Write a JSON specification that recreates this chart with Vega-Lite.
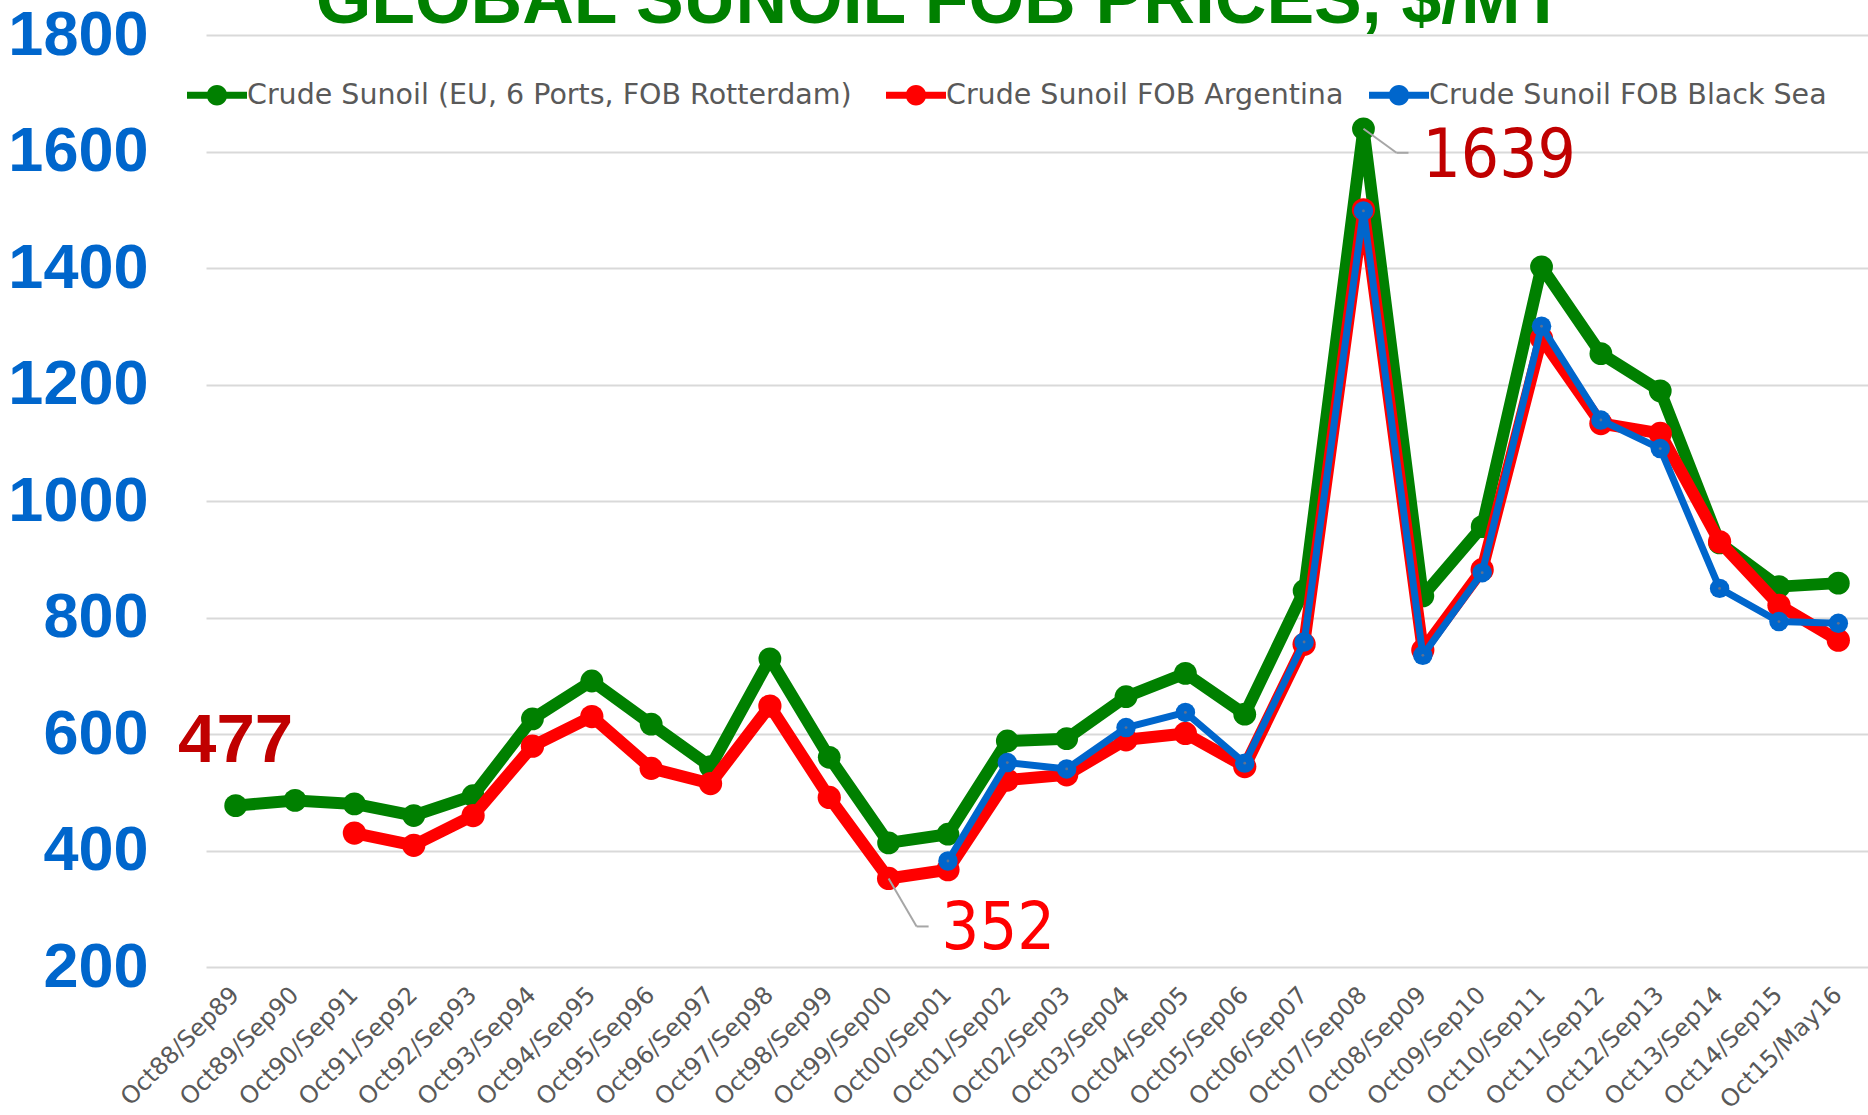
{
  "$schema": "https://vega.github.io/schema/vega-lite/v6.json",
  "width": 1662,
  "height": 932,
  "autosize": {"type": "none"},
  "padding": {"left": 206, "top": 35, "right": 0, "bottom": 148},
  "background": "white",
  "config": {"view": {"stroke": null}},
  "title": {
    "text": "GLOBAL SUNOIL FOB PRICES, $/MT",
    "font": "Liberation Sans",
    "fontSize": 71.5,
    "fontWeight": "bold",
    "color": "#008000",
    "anchor": "middle",
    "frame": "group",
    "dx": -97,
    "offset": 0,
    "baseline": "alphabetic",
    "dy": 90
  },
  "datasets": {
    "prices": [
      {"period": "Oct88/Sep89", "series": "Crude Sunoil  (EU, 6 Ports, FOB Rotterdam)", "price": 477},
      {"period": "Oct89/Sep90", "series": "Crude Sunoil  (EU, 6 Ports, FOB Rotterdam)", "price": 486},
      {"period": "Oct90/Sep91", "series": "Crude Sunoil  (EU, 6 Ports, FOB Rotterdam)", "price": 480},
      {"period": "Oct91/Sep92", "series": "Crude Sunoil  (EU, 6 Ports, FOB Rotterdam)", "price": 460},
      {"period": "Oct92/Sep93", "series": "Crude Sunoil  (EU, 6 Ports, FOB Rotterdam)", "price": 494},
      {"period": "Oct93/Sep94", "series": "Crude Sunoil  (EU, 6 Ports, FOB Rotterdam)", "price": 626},
      {"period": "Oct94/Sep95", "series": "Crude Sunoil  (EU, 6 Ports, FOB Rotterdam)", "price": 691},
      {"period": "Oct95/Sep96", "series": "Crude Sunoil  (EU, 6 Ports, FOB Rotterdam)", "price": 617},
      {"period": "Oct96/Sep97", "series": "Crude Sunoil  (EU, 6 Ports, FOB Rotterdam)", "price": 544},
      {"period": "Oct97/Sep98", "series": "Crude Sunoil  (EU, 6 Ports, FOB Rotterdam)", "price": 729},
      {"period": "Oct98/Sep99", "series": "Crude Sunoil  (EU, 6 Ports, FOB Rotterdam)", "price": 560},
      {"period": "Oct99/Sep00", "series": "Crude Sunoil  (EU, 6 Ports, FOB Rotterdam)", "price": 413},
      {"period": "Oct00/Sep01", "series": "Crude Sunoil  (EU, 6 Ports, FOB Rotterdam)", "price": 428},
      {"period": "Oct01/Sep02", "series": "Crude Sunoil  (EU, 6 Ports, FOB Rotterdam)", "price": 588},
      {"period": "Oct02/Sep03", "series": "Crude Sunoil  (EU, 6 Ports, FOB Rotterdam)", "price": 592},
      {"period": "Oct03/Sep04", "series": "Crude Sunoil  (EU, 6 Ports, FOB Rotterdam)", "price": 664},
      {"period": "Oct04/Sep05", "series": "Crude Sunoil  (EU, 6 Ports, FOB Rotterdam)", "price": 704},
      {"period": "Oct05/Sep06", "series": "Crude Sunoil  (EU, 6 Ports, FOB Rotterdam)", "price": 634},
      {"period": "Oct06/Sep07", "series": "Crude Sunoil  (EU, 6 Ports, FOB Rotterdam)", "price": 846},
      {"period": "Oct07/Sep08", "series": "Crude Sunoil  (EU, 6 Ports, FOB Rotterdam)", "price": 1639},
      {"period": "Oct08/Sep09", "series": "Crude Sunoil  (EU, 6 Ports, FOB Rotterdam)", "price": 837},
      {"period": "Oct09/Sep10", "series": "Crude Sunoil  (EU, 6 Ports, FOB Rotterdam)", "price": 956},
      {"period": "Oct10/Sep11", "series": "Crude Sunoil  (EU, 6 Ports, FOB Rotterdam)", "price": 1402},
      {"period": "Oct11/Sep12", "series": "Crude Sunoil  (EU, 6 Ports, FOB Rotterdam)", "price": 1253},
      {"period": "Oct12/Sep13", "series": "Crude Sunoil  (EU, 6 Ports, FOB Rotterdam)", "price": 1189},
      {"period": "Oct13/Sep14", "series": "Crude Sunoil  (EU, 6 Ports, FOB Rotterdam)", "price": 928},
      {"period": "Oct14/Sep15", "series": "Crude Sunoil  (EU, 6 Ports, FOB Rotterdam)", "price": 853},
      {"period": "Oct15/May16", "series": "Crude Sunoil  (EU, 6 Ports, FOB Rotterdam)", "price": 859},
      {"period": "Oct90/Sep91", "series": "Crude Sunoil FOB Argentina", "price": 430},
      {"period": "Oct91/Sep92", "series": "Crude Sunoil FOB Argentina", "price": 409},
      {"period": "Oct92/Sep93", "series": "Crude Sunoil FOB Argentina", "price": 460},
      {"period": "Oct93/Sep94", "series": "Crude Sunoil FOB Argentina", "price": 579},
      {"period": "Oct94/Sep95", "series": "Crude Sunoil FOB Argentina", "price": 630},
      {"period": "Oct95/Sep96", "series": "Crude Sunoil FOB Argentina", "price": 541},
      {"period": "Oct96/Sep97", "series": "Crude Sunoil FOB Argentina", "price": 515},
      {"period": "Oct97/Sep98", "series": "Crude Sunoil FOB Argentina", "price": 648},
      {"period": "Oct98/Sep99", "series": "Crude Sunoil FOB Argentina", "price": 491},
      {"period": "Oct99/Sep00", "series": "Crude Sunoil FOB Argentina", "price": 352},
      {"period": "Oct00/Sep01", "series": "Crude Sunoil FOB Argentina", "price": 367},
      {"period": "Oct01/Sep02", "series": "Crude Sunoil FOB Argentina", "price": 521},
      {"period": "Oct02/Sep03", "series": "Crude Sunoil FOB Argentina", "price": 530},
      {"period": "Oct03/Sep04", "series": "Crude Sunoil FOB Argentina", "price": 590},
      {"period": "Oct04/Sep05", "series": "Crude Sunoil FOB Argentina", "price": 601},
      {"period": "Oct05/Sep06", "series": "Crude Sunoil FOB Argentina", "price": 544},
      {"period": "Oct06/Sep07", "series": "Crude Sunoil FOB Argentina", "price": 754},
      {"period": "Oct07/Sep08", "series": "Crude Sunoil FOB Argentina", "price": 1500},
      {"period": "Oct08/Sep09", "series": "Crude Sunoil FOB Argentina", "price": 744},
      {"period": "Oct09/Sep10", "series": "Crude Sunoil FOB Argentina", "price": 882},
      {"period": "Oct10/Sep11", "series": "Crude Sunoil FOB Argentina", "price": 1279},
      {"period": "Oct11/Sep12", "series": "Crude Sunoil FOB Argentina", "price": 1133},
      {"period": "Oct12/Sep13", "series": "Crude Sunoil FOB Argentina", "price": 1116},
      {"period": "Oct13/Sep14", "series": "Crude Sunoil FOB Argentina", "price": 930},
      {"period": "Oct14/Sep15", "series": "Crude Sunoil FOB Argentina", "price": 821},
      {"period": "Oct15/May16", "series": "Crude Sunoil FOB Argentina", "price": 761},
      {"period": "Oct00/Sep01", "series": "Crude Sunoil  FOB Black Sea", "price": 382},
      {"period": "Oct01/Sep02", "series": "Crude Sunoil  FOB Black Sea", "price": 551},
      {"period": "Oct02/Sep03", "series": "Crude Sunoil  FOB Black Sea", "price": 540},
      {"period": "Oct03/Sep04", "series": "Crude Sunoil  FOB Black Sea", "price": 611},
      {"period": "Oct04/Sep05", "series": "Crude Sunoil  FOB Black Sea", "price": 637},
      {"period": "Oct05/Sep06", "series": "Crude Sunoil  FOB Black Sea", "price": 550},
      {"period": "Oct06/Sep07", "series": "Crude Sunoil  FOB Black Sea", "price": 758},
      {"period": "Oct07/Sep08", "series": "Crude Sunoil  FOB Black Sea", "price": 1498},
      {"period": "Oct08/Sep09", "series": "Crude Sunoil  FOB Black Sea", "price": 735},
      {"period": "Oct09/Sep10", "series": "Crude Sunoil  FOB Black Sea", "price": 877},
      {"period": "Oct10/Sep11", "series": "Crude Sunoil  FOB Black Sea", "price": 1300},
      {"period": "Oct11/Sep12", "series": "Crude Sunoil  FOB Black Sea", "price": 1139},
      {"period": "Oct12/Sep13", "series": "Crude Sunoil  FOB Black Sea", "price": 1090},
      {"period": "Oct13/Sep14", "series": "Crude Sunoil  FOB Black Sea", "price": 850},
      {"period": "Oct14/Sep15", "series": "Crude Sunoil  FOB Black Sea", "price": 793},
      {"period": "Oct15/May16", "series": "Crude Sunoil  FOB Black Sea", "price": 790}
    ],
    "notes": [
      {"period": "Oct88/Sep89", "price": 477, "label": "477", "note": "start"},
      {"period": "Oct07/Sep08", "price": 1639, "label": "1639", "note": "peak"},
      {"period": "Oct99/Sep00", "price": 352, "label": "352", "note": "low"}
    ]
  },
  "data": {"name": "prices"},
  "encoding": {
    "x": {
      "field": "period",
      "type": "ordinal",
      "sort": null,
      "scale": {"domain": ["Oct88/Sep89","Oct89/Sep90","Oct90/Sep91","Oct91/Sep92","Oct92/Sep93","Oct93/Sep94","Oct94/Sep95","Oct95/Sep96","Oct96/Sep97","Oct97/Sep98","Oct98/Sep99","Oct99/Sep00","Oct00/Sep01","Oct01/Sep02","Oct02/Sep03","Oct03/Sep04","Oct04/Sep05","Oct05/Sep06","Oct06/Sep07","Oct07/Sep08","Oct08/Sep09","Oct09/Sep10","Oct10/Sep11","Oct11/Sep12","Oct12/Sep13","Oct13/Sep14","Oct14/Sep15","Oct15/May16"]},
      "axis": {
        "title": null,
        "domain": false,
        "ticks": false,
        "tickSize": 0,
        "grid": false,
        "labelAngle": -45,
        "labelAlign": "right",
        "labelBaseline": "middle",
        "labelPadding": 24,
        "labelFont": "DejaVu Sans",
        "labelFontSize": 24,
        "labelColor": "#595959",
        "labelOverlap": false,
        "labelLimit": 400
      }
    },
    "y": {
      "field": "price",
      "type": "quantitative",
      "scale": {"domain": [200, 1800], "nice": false, "zero": false},
      "axis": {
        "title": null,
        "domain": false,
        "ticks": false,
        "tickSize": 0,
        "format": "d",
        "values": [200, 400, 600, 800, 1000, 1200, 1400, 1600, 1800],
        "grid": true,
        "gridColor": "#D9D9D9",
        "gridWidth": 2,
        "labelFont": "Liberation Sans",
        "labelFontWeight": "bold",
        "labelFontSize": 63,
        "labelColor": "#0066CC",
        "labelPadding": 58,
        "labelBaseline": "middle",
        "labelFlush": false,
        "labelOverlap": false
      }
    }
  },
  "layer": [
    {
      "transform": [{"filter": {"field": "series", "equal": "Crude Sunoil  (EU, 6 Ports, FOB Rotterdam)"}}],
      "mark": {"type": "line", "strokeWidth": 12, "strokeJoin": "round", "strokeCap": "round"},
      "encoding": {
        "color": {
          "field": "series", "type": "nominal",
          "scale": {"domain": ["Crude Sunoil  (EU, 6 Ports, FOB Rotterdam)", "Crude Sunoil FOB Argentina", "Crude Sunoil  FOB Black Sea"], "range": ["#008000", "#FF0000", "#0066CC"]},
          "legend": {
            "title": null,
            "orient": "none",
            "legendX": -19,
            "legendY": 30,
            "direction": "horizontal",
            "symbolType": "M-1,-0.12L1,-0.12L1,0.12L-1,0.12Z M0.34,0A0.34,0.34 0 1 1 -0.34,0A0.34,0.34 0 1 1 0.34,0Z",
            "symbolSize": 3600,
            "symbolStrokeWidth": 0,
            "symbolOpacity": 1,
            "labelFont": "DejaVu Sans",
            "labelFontSize": 28.5,
            "labelColor": "#595959",
            "labelLimit": 1000,
            "labelOffset": 0,
            "columnPadding": 25,
            "encode": {
              "symbols": {
                "update": {
                  "fill": {"scale": "color", "field": "value"},
                  "stroke": {"value": "transparent"},
                  "strokeWidth": {"value": 0},
                  "opacity": {"value": 1}
                }
              }
            }
          }
        }
      }
    },
    {
      "transform": [{"filter": {"field": "series", "equal": "Crude Sunoil  (EU, 6 Ports, FOB Rotterdam)"}}],
      "mark": {"type": "point", "filled": true, "size": 520, "opacity": 1},
      "encoding": {"color": {"field": "series", "type": "nominal"}}
    },
    {
      "transform": [{"filter": {"field": "series", "equal": "Crude Sunoil FOB Argentina"}}],
      "mark": {"type": "line", "strokeWidth": 12, "strokeJoin": "round", "strokeCap": "round"},
      "encoding": {"color": {"field": "series", "type": "nominal"}}
    },
    {
      "transform": [{"filter": {"field": "series", "equal": "Crude Sunoil FOB Argentina"}}],
      "mark": {"type": "point", "filled": true, "size": 540, "opacity": 1},
      "encoding": {"color": {"field": "series", "type": "nominal"}}
    },
    {
      "transform": [{"filter": {"field": "series", "equal": "Crude Sunoil  FOB Black Sea"}}],
      "mark": {"type": "line", "strokeWidth": 7, "strokeJoin": "round", "strokeCap": "round"},
      "encoding": {"color": {"field": "series", "type": "nominal"}}
    },
    {
      "transform": [{"filter": {"field": "series", "equal": "Crude Sunoil  FOB Black Sea"}}],
      "mark": {"type": "point", "filled": true, "size": 380, "opacity": 1},
      "encoding": {"color": {"field": "series", "type": "nominal"}}
    },
    {
      "transform": [{"filter": {"field": "series", "equal": "Crude Sunoil  FOB Black Sea"}}],
      "mark": {"type": "point", "filled": true, "size": 8, "opacity": 1, "color": "#5F7290"}
    },
    {
      "data": {"name": "notes"},
      "transform": [{"filter": {"field": "note", "equal": "peak"}}],
      "mark": {"type": "rule", "color": "#A6A6A6", "strokeWidth": 2, "x2Offset": 33, "y2Offset": 24},
      "encoding": {"x2": {"field": "period"}, "y2": {"field": "price"}}
    },
    {
      "data": {"name": "notes"},
      "transform": [{"filter": {"field": "note", "equal": "peak"}}],
      "mark": {"type": "rule", "color": "#A6A6A6", "strokeWidth": 2, "xOffset": 33, "x2Offset": 45, "yOffset": 24, "y2Offset": 24},
      "encoding": {"x2": {"field": "period"}, "y2": {"field": "price"}}
    },
    {
      "data": {"name": "notes"},
      "transform": [{"filter": {"field": "note", "equal": "low"}}],
      "mark": {"type": "rule", "color": "#A6A6A6", "strokeWidth": 2, "x2Offset": 28, "y2Offset": 48},
      "encoding": {"x2": {"field": "period"}, "y2": {"field": "price"}}
    },
    {
      "data": {"name": "notes"},
      "transform": [{"filter": {"field": "note", "equal": "low"}}],
      "mark": {"type": "rule", "color": "#A6A6A6", "strokeWidth": 2, "xOffset": 28, "x2Offset": 40, "yOffset": 48, "y2Offset": 48},
      "encoding": {"x2": {"field": "period"}, "y2": {"field": "price"}}
    },
    {
      "data": {"name": "notes"},
      "transform": [{"filter": {"field": "note", "equal": "start"}}],
      "mark": {"type": "text", "font": "Liberation Sans", "fontWeight": "bold", "fontSize": 69, "color": "#C00000", "align": "center", "baseline": "alphabetic", "dy": -44},
      "encoding": {"text": {"field": "label"}}
    },
    {
      "data": {"name": "notes"},
      "transform": [{"filter": {"field": "note", "equal": "peak"}}],
      "mark": {"type": "text", "font": "DejaVu Sans Condensed", "fontSize": 67, "color": "#C00000", "align": "left", "baseline": "alphabetic", "dx": 59, "dy": 48},
      "encoding": {"text": {"field": "label"}}
    },
    {
      "data": {"name": "notes"},
      "transform": [{"filter": {"field": "note", "equal": "low"}}],
      "mark": {"type": "text", "font": "DejaVu Sans Condensed", "fontSize": 66, "color": "#FF0000", "align": "left", "baseline": "alphabetic", "dx": 53, "dy": 71},
      "encoding": {"text": {"field": "label"}}
    }
  ]
}
